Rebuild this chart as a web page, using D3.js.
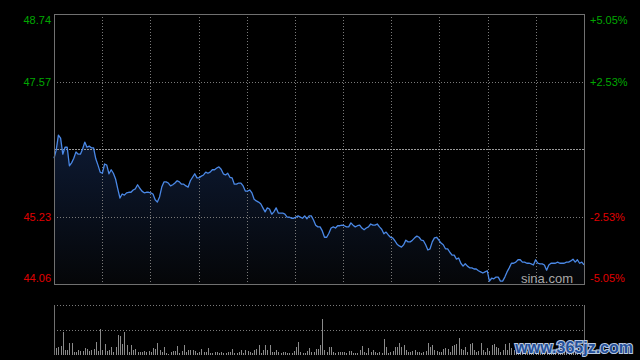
<!DOCTYPE html>
<html><head><meta charset="utf-8">
<script src="https://cdn.jsdelivr.net/npm/d3@7"></script>
<style>html,body{margin:0;padding:0;background:#000;}svg{display:block;}</style>
</head><body>
<svg id="c" width="640" height="360"></svg>
<script>
// ---- data ----
const prices = [
46.24,46.38,46.64,46.59,46.31,46.43,46.43,46.11,46.16,46.24,
46.35,46.31,46.31,46.40,46.52,46.43,46.45,46.42,46.42,46.23,
46.12,46.00,45.98,46.14,46.12,45.97,46.04,45.98,45.88,45.71,
45.55,45.62,45.60,45.64,45.65,45.65,45.69,45.71,45.78,45.72,
45.67,45.64,45.65,45.65,45.64,45.62,45.52,45.48,45.57,45.74,
45.83,45.83,45.81,45.76,45.78,45.81,45.85,45.83,45.79,45.79,
45.76,45.74,45.85,45.91,45.97,45.90,45.90,45.93,45.95,46.00,
45.98,46.00,46.04,46.04,46.07,46.09,46.05,45.97,45.95,45.98,
45.91,45.90,45.79,45.79,45.81,45.81,45.76,45.67,45.67,45.69,
45.64,45.53,45.50,45.48,45.45,45.38,45.31,45.38,45.36,45.27,
45.31,45.38,45.29,45.29,45.29,45.27,45.22,45.22,45.20,45.20,
45.22,45.24,45.22,45.20,45.24,45.19,45.24,45.24,45.17,45.08,
45.05,45.05,44.98,44.87,44.87,44.94,45.03,45.05,45.03,45.07,
45.07,45.08,45.07,45.05,45.05,45.12,45.08,45.05,45.07,45.08,
45.03,45.00,45.03,45.05,45.10,45.08,45.08,45.10,45.05,45.01,
44.93,44.96,44.91,44.87,44.86,44.81,44.75,44.72,44.70,44.74,
44.82,44.79,44.79,44.82,44.86,44.89,44.87,44.82,44.81,44.74,
44.65,44.67,44.79,44.86,44.87,44.82,44.77,44.74,44.67,44.67,
44.61,44.56,44.56,44.49,44.51,44.42,44.37,44.41,44.37,44.34,
44.34,44.32,44.32,44.29,44.27,44.25,44.27,44.29,44.11,44.16,
44.15,44.18,44.18,44.11,44.11,44.18,44.27,44.34,44.42,44.42,
44.44,44.48,44.48,44.44,44.44,44.42,44.42,44.41,44.39,44.48,
44.42,44.41,44.41,44.39,44.30,44.39,44.42,44.42,44.42,44.44,
44.42,44.42,44.42,44.44,44.44,44.46,44.49,44.44,44.48,44.42,
44.44,44.39
];
const volumes = [
21,7,8,9,23,5,5,12,12,3,3,5,4,4,7,6,4,5,6,13,
4,26,5,11,4,5,8,3,8,20,19,11,23,10,3,10,5,6,3,3,
3,4,3,4,3,7,6,12,5,3,8,2,1,3,4,4,9,2,4,10,
3,5,5,5,4,2,3,6,3,3,7,2,2,3,3,2,3,2,2,3,
3,6,2,2,3,5,2,5,4,3,2,5,6,10,2,5,10,5,10,3,
3,5,3,2,3,3,2,2,2,4,8,13,3,2,2,4,7,3,3,6,
6,10,36,5,3,8,8,3,2,3,3,3,3,2,4,4,2,2,2,5,
9,3,2,7,3,5,3,2,3,2,16,8,2,3,4,8,8,12,8,10,
5,3,3,4,5,3,3,2,3,4,12,8,10,5,4,3,3,6,7,6,
3,9,10,11,17,6,5,8,3,11,12,5,3,4,12,5,3,7,4,10,
11,8,7,3,5,11,5,12,7,5,3,5,4,6,3,4,7,5,3,4,
6,8,4,3,5,4,6,3,5,7,4,3,5,6,4,3,5,4,6,3,
5,8
];
const priceTicks = [48.74, 47.57, 46.40, 45.23, 44.06];
const pctTicks = ["+5.05%", "+2.53%", "", "-2.53%", "-5.05%"];
const prevClose = 46.40;
const gridCols = [1,2,3,4,5,6,7,8,9,10];
const volTicks = [0, 25, 50];

// ---- layout ----
const svg = d3.select("#c");
const L = 54, R = 584, T = 14, B = 284;
const VT = 305, VB = 355;
const font = "Arial, 'Liberation Sans', sans-serif";

svg.append("rect").attr("width",640).attr("height",360).attr("fill","#000");

const x = d3.scaleLinear().domain([0, 241]).range([L, R]);
const y = d3.scaleLinear().domain([44.06, 48.74]).range([B, T]);
const xg = d3.scaleLinear().domain([0, 11]).range([L, R]);
const yv = d3.scaleLinear().domain([0, 50]).range([VB, VT]);

const defs = svg.append("defs");
const grad = defs.append("linearGradient").attr("id","ag")
  .attr("gradientUnits","userSpaceOnUse").attr("x1",0).attr("x2",0)
  .attr("y1",y(46.64)).attr("y2",B);
grad.append("stop").attr("offset","0").attr("stop-color","#0d1a33");
grad.append("stop").attr("offset","1").attr("stop-color","#050608");

// area
const area = d3.area().x((d,i)=>x(i)).y0(B).y1(d=>y(d));
svg.append("path").datum(prices).attr("d",area).attr("fill","url(#ag)");

// grid
const g = svg.append("g");
g.selectAll(".vg").data(gridCols).enter().append("line")
  .attr("x1",d=>Math.round(xg(d))+0.5).attr("x2",d=>Math.round(xg(d))+0.5)
  .attr("y1",T).attr("y2",B)
  .attr("stroke","#7a7a7a").attr("stroke-dasharray","1,2");
g.selectAll(".hg").data(priceTicks.filter(d=>d!==prevClose && d!==48.74 && d!==44.06)).enter().append("line")
  .attr("x1",L).attr("x2",R)
  .attr("y1",d=>Math.round(y(d))+0.5).attr("y2",d=>Math.round(y(d))+0.5)
  .attr("stroke","#7a7a7a").attr("stroke-dasharray","1,2");
g.append("line").attr("x1",L).attr("x2",R)
  .attr("y1",Math.round(y(prevClose))+0.5).attr("y2",Math.round(y(prevClose))+0.5)
  .attr("stroke","#9a9a9a").attr("stroke-dasharray","2,1");

// line
const line = d3.line().x((d,i)=>x(i)).y(d=>y(d));
svg.append("path").datum(prices).attr("d",line).attr("fill","none")
  .attr("stroke","#4a88e6").attr("stroke-width",1.3).attr("stroke-linejoin","round");

// frame
svg.append("rect").attr("x",L+0.5).attr("y",T+0.5).attr("width",R-L).attr("height",B-T)
  .attr("fill","none").attr("stroke","#707070");

// labels
const lab = svg.append("g").attr("font-family",font).attr("font-size",11);
priceTicks.forEach((p,i)=>{
  if (p === prevClose) return;
  const yy = y(p);
  const off = (i===0) ? 10 : (i===priceTicks.length-1 ? -2 : 4);
  const col = p > prevClose ? "#00a800" : "#e00000";
  lab.append("text").attr("x",51).attr("y",yy+off).attr("text-anchor","end").attr("fill",col).text(p.toFixed(2));
  lab.append("text").attr("x",590).attr("y",yy+off).attr("text-anchor","start").attr("fill",col).text(pctTicks[i]);
});

svg.append("text").attr("x",573).attr("y",283).attr("text-anchor","end")
  .attr("font-family",font).attr("font-size",13).attr("fill","#a8a8a8").text("sina.com");

// volume panel
const vg = svg.append("g");
vg.selectAll(".vh").data(volTicks.filter(d=>d>0)).enter().append("line")
  .attr("x1",L).attr("x2",R)
  .attr("y1",d=>Math.round(yv(d))+0.5).attr("y2",d=>Math.round(yv(d))+0.5)
  .attr("stroke","#7a7a7a").attr("stroke-dasharray","1,2");
vg.selectAll(".bar").data(volumes).enter().append("rect")
  .attr("x",(d,i)=>Math.round(x(i))).attr("width",1)
  .attr("y",d=>yv(d)).attr("height",d=>VB-yv(d))
  .attr("fill","#8a8a8a");
vg.append("line").attr("x1",L+0.5).attr("x2",L+0.5).attr("y1",VT).attr("y2",VB).attr("stroke","#707070");
vg.append("line").attr("x1",R+0.5).attr("x2",R+0.5).attr("y1",VT).attr("y2",VB).attr("stroke","#707070");

// watermark
svg.append("text").attr("x",633).attr("y",353).attr("text-anchor","end")
  .attr("font-family",font).attr("font-size",16).attr("font-weight","bold")
  .attr("fill","#24509a").attr("stroke","#b8c8e2").attr("stroke-width",2)
  .attr("paint-order","stroke").text("www.365jz.com");
</script>
</body></html>
